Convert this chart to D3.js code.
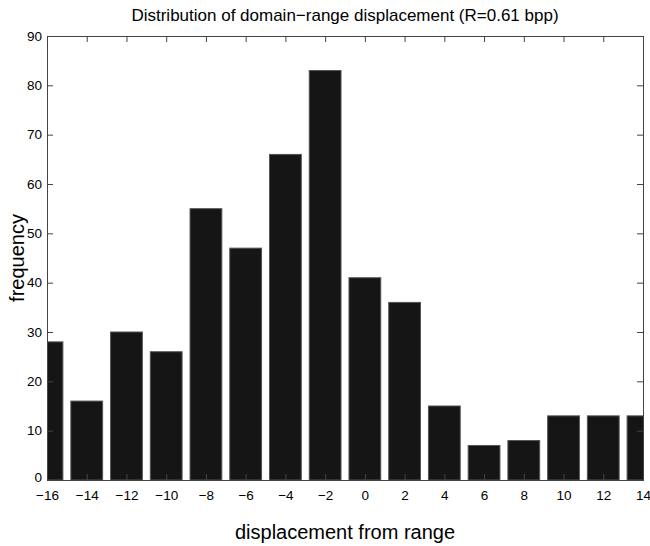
<!DOCTYPE html>
<html>
<head>
<meta charset="utf-8">
<script src="https://cdn.jsdelivr.net/npm/d3@7"></script>
<style>
    body { margin: 0; background: #fff; }
    text { font-family: "Liberation Sans", Arial, Helvetica, sans-serif; fill: #000; }
</style>
</head>
<body>
<div id="chart"></div>
<script>
// histogram bins (displacement) and counts
let displacement = [-16, -14, -12, -10, -8, -6, -4, -2, 0, 2, 4, 6, 8, 10, 12, 14];
let frequency = [28, 16, 30, 26, 55, 47, 66, 83, 41, 36, 15, 7, 8, 13, 13, 13];
let xTicks = [-16, -14, -12, -10, -8, -6, -4, -2, 0, 2, 4, 6, 8, 10, 12, 14];
let yTicks = [0, 10, 20, 30, 40, 50, 60, 70, 80, 90];

let width = 650, height = 546;
let margin = {top: 36, right: 7, bottom: 66, left: 47};
let w = width - margin.left - margin.right;
let h = height - margin.top - margin.bottom;

let svg = d3.select("#chart").append("svg")
    .attr("width", width)
    .attr("height", height);

let x = d3.scaleLinear().domain([-16, 14]).range([0, w]);
let y = d3.scaleLinear().domain([0, 90]).range([h, 0]);

let g = svg.append("g")
    .attr("transform", `translate(${margin.left},${margin.top})`);

// clip bars to the axes box
svg.append("defs").append("clipPath")
    .attr("id", "plot-clip")
    .append("rect")
    .attr("width", w)
    .attr("height", h);

// bars, MATLAB default width 0.8 of bin spacing
let barW = (x(2) - x(0)) * 0.8;
g.append("g")
    .attr("clip-path", "url(#plot-clip)")
    .selectAll("rect")
    .data(displacement)
    .join("rect")
    .attr("x", (d, i) => x(d) - barW / 2)
    .attr("y", (d, i) => y(frequency[i]))
    .attr("width", barW)
    .attr("height", (d, i) => y(0) - y(frequency[i]))
    .attr("fill", "#151515")
    .attr("stroke", "#555")
    .attr("stroke-width", 1);

// axes with inward ticks
let tickLen = 6;
let fmt = d => d < 0 ? "\u2212" + Math.abs(d) : d;

let xBottom = g.append("g")
    .attr("transform", `translate(0,${h})`)
    .call(d3.axisBottom(x).tickValues(xTicks).tickSize(-tickLen).tickPadding(10).tickFormat(fmt));
let xTop = g.append("g")
    .call(d3.axisTop(x).tickValues(xTicks).tickSize(-tickLen).tickFormat(""));
let yLeft = g.append("g")
    .call(d3.axisLeft(y).tickValues(yTicks).tickSize(-tickLen).tickPadding(5));
let yRight = g.append("g")
    .attr("transform", `translate(${w},0)`)
    .call(d3.axisRight(y).tickValues(yTicks).tickSize(-tickLen).tickFormat(""));

[xBottom, xTop, yLeft, yRight].forEach(a => {
    a.select(".domain").attr("stroke", "#444");
    a.selectAll(".tick line").attr("stroke", "#444");
    a.selectAll("text")
        .style("font-size", "13.5px")
        .style("font-family", "'Liberation Sans', Arial, sans-serif");
});

// the "0" label sits just above the bottom-left corner
yLeft.selectAll(".tick text").filter(d => d === 0).attr("dy", "0.1em");

// title and labels
svg.append("text")
    .attr("x", margin.left + w / 2)
    .attr("y", 21)
    .attr("text-anchor", "middle")
    .style("font-size", "17px")
    .text("Distribution of domain\u2212range displacement (R=0.61 bpp)");

svg.append("text")
    .attr("x", margin.left + w / 2)
    .attr("y", 539)
    .attr("text-anchor", "middle")
    .style("font-size", "20px")
    .text("displacement from range");

svg.append("text")
    .attr("transform", `translate(24,${margin.top + h / 2}) rotate(-90)`)
    .attr("text-anchor", "middle")
    .style("font-size", "20px")
    .text("frequency");
</script>
</body>
</html>
